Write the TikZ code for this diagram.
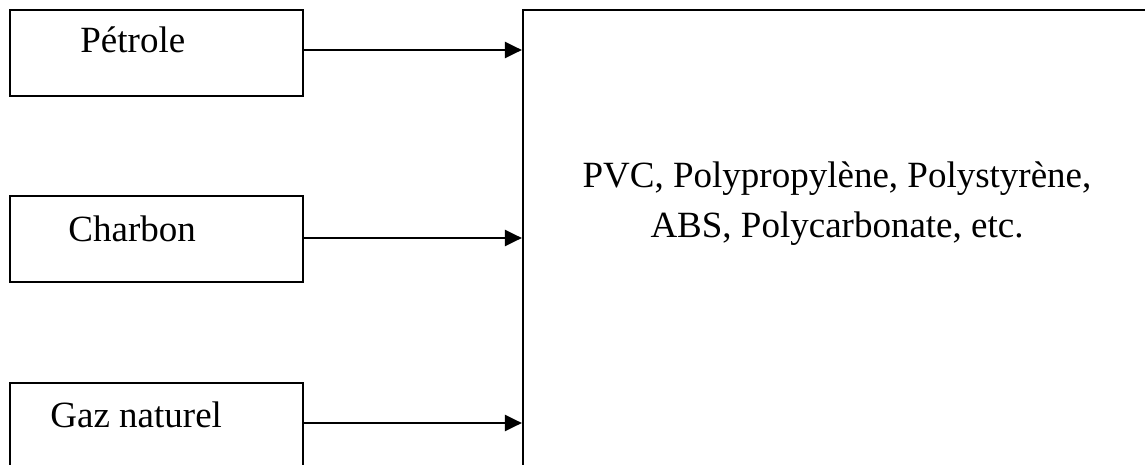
\documentclass[tikz,border=0pt]{standalone}
\usepackage{fontspec}
\setmainfont{Liberation Serif}
\usetikzlibrary{arrows.meta}
\tikzset{
  srcbox/.style={draw, line width=1.1pt, minimum width=146.5pt, minimum height=43pt, inner sep=0pt},
  bigbox/.style={draw, line width=1.1pt, minimum width=314pt, minimum height=245pt, inner sep=0pt},
  lbl/.style={font=\fontsize{18.5}{25}\selectfont, inner sep=0pt},
  feed/.style={line width=1.1pt, -{Triangle[length=8.5pt,width=8pt]}}
}
\begin{document}
\begin{tikzpicture}[x=0.5pt,y=-0.5pt]
  \useasboundingbox (0,0) rectangle (1145,465);
  \clip (0,0) rectangle (1145,465);

  % raw material boxes
  \node[srcbox] (p) at (156.5,52.7) {};
  \node[srcbox] (c) at (156.5,239) {};
  \node[srcbox] (g) at (156.5,426) {};

  % product box (runs past the right and bottom edges)
  \node[bigbox] (prod) at (837,255) {};

  % labels
  \node[lbl, anchor=base west] (pt) at (80,53) {Pétrole};
  \node[lbl, anchor=base west] (ct) at (68,241) {Charbon};
  \node[lbl, anchor=base west] (gt) at (50,427) {Gaz naturel};
  \node[lbl, align=center] (prodt) at (837,204)
    {PVC, Polypropylène, Polystyrène,\\ABS, Polycarbonate, etc.};

  % feeds
  \coordinate (pe) at ([yshift=1.35pt]p.east);
  \coordinate (ce) at ([yshift=0.5pt]c.east);
  \coordinate (ge) at ([yshift=1.5pt]g.east);
  \draw[feed] (pe) -- (pe -| prod.west);
  \draw[feed] (ce) -- (ce -| prod.west);
  \draw[feed] (ge) -- (ge -| prod.west);
\end{tikzpicture}
\end{document}
